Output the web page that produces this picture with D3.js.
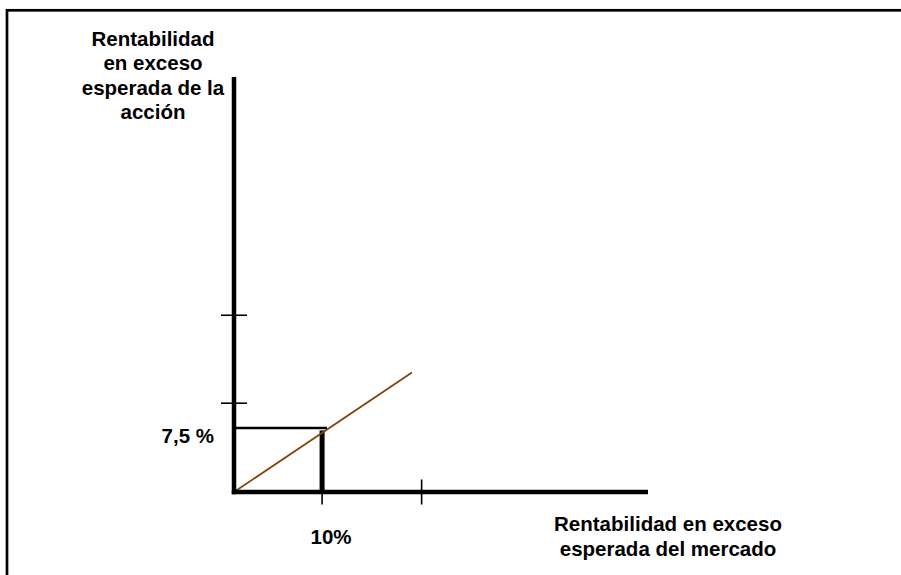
<!DOCTYPE html>
<html>
<head>
<meta charset="utf-8">
<script src="https://cdn.jsdelivr.net/npm/d3@7/dist/d3.min.js"></script>
<style>
  html, body { margin: 0; padding: 0; background: #fff; }
  svg { display: block; }
  text { font-family: "Liberation Sans", Arial, sans-serif; font-weight: bold; fill: #000; }
</style>
</head>
<body>
<svg id="chart" width="901" height="575"></svg>
<script>
// ---- data (in %) ----
const yAxisLabel = ["Rentabilidad", "en exceso", "esperada de la", "acción"];
const xAxisLabel = ["Rentabilidad en exceso", "esperada del mercado"];
const xTicks = [10, 21.3];
const yTicks = [10.4, 20.7];
const smlX = [0, 20.2];
const smlY = [0, 14.0];
const pointX = [10];
const pointY = [7.5];
const pointXLabel = ["10%"];
const pointYLabel = ["7,5 %"];

const svg = d3.select("#chart");
const W = 901, H = 575;

// frame
svg.append("rect").attr("x", 7).attr("y", 10.3).attr("width", W + 20).attr("height", H + 20)
  .attr("fill", "none").attr("stroke", "#000").attr("stroke-width", 2.7);

const x = d3.scaleLinear().domain([0, 47]).range([234, 648]);
const y = d3.scaleLinear().domain([0, 48.6]).range([492, 77]);

// y ticks
svg.selectAll(".yt").data(yTicks).enter().append("line")
  .attr("x1", x(0) - 13).attr("x2", x(0) + 13)
  .attr("y1", d => y(d)).attr("y2", d => y(d))
  .attr("stroke", "#000").attr("stroke-width", 1.6);
// x ticks
svg.selectAll(".xt").data(xTicks).enter().append("line")
  .attr("x1", d => x(d)).attr("x2", d => x(d))
  .attr("y1", y(0) - 12.5).attr("y2", y(0) + 12.5)
  .attr("stroke", "#000").attr("stroke-width", 1.6);

// box to the point
svg.selectAll(".hb").data(pointY).enter().append("line")
  .attr("x1", x(0)).attr("x2", (d, i) => x(pointX[i]) + 5)
  .attr("y1", d => y(d)).attr("y2", d => y(d))
  .attr("stroke", "#000").attr("stroke-width", 2.6);
svg.selectAll(".vb").data(pointX).enter().append("line")
  .attr("x1", d => x(d)).attr("x2", d => x(d))
  .attr("y1", (d, i) => y(pointY[i]) + 2.5).attr("y2", y(0))
  .attr("stroke", "#000").attr("stroke-width", 5);

// line
const lineData = smlX.map((v, i) => [v, smlY[i]]);
svg.append("path").datum(lineData)
  .attr("d", d3.line().x(d => x(d[0])).y(d => y(d[1])))
  .attr("fill", "none").attr("stroke", "#7f4512").attr("stroke-width", 1.8);

// axes
svg.append("line").attr("x1", x(0)).attr("x2", x(0)).attr("y1", y(48.6)).attr("y2", y(0) + 2.2)
  .attr("stroke", "#000").attr("stroke-width", 4.5);
svg.append("line").attr("x1", x(0) - 2.2).attr("x2", x(47)).attr("y1", y(0)).attr("y2", y(0))
  .attr("stroke", "#000").attr("stroke-width", 4.5);

// labels
const fs = 20.5;
svg.append("text").attr("text-anchor", "middle").attr("font-size", fs)
  .selectAll("tspan").data(yAxisLabel).enter().append("tspan")
  .attr("x", 153).attr("y", (d, i) => 46 + i * 24.3).text(d => d);
svg.append("text").attr("text-anchor", "middle").attr("font-size", fs)
  .selectAll("tspan").data(xAxisLabel).enter().append("tspan")
  .attr("x", 668).attr("y", (d, i) => 530.5 + i * 25).text(d => d);

svg.selectAll(".pyl").data(pointYLabel).enter().append("text")
  .attr("x", 214).attr("y", (d, i) => y(pointY[i]) + 15).attr("text-anchor", "end")
  .attr("font-size", fs).text(d => d);
svg.selectAll(".pxl").data(pointXLabel).enter().append("text")
  .attr("x", (d, i) => x(pointX[i]) + 9).attr("y", 544).attr("text-anchor", "middle")
  .attr("font-size", fs).text(d => d);
</script>
</body>
</html>
